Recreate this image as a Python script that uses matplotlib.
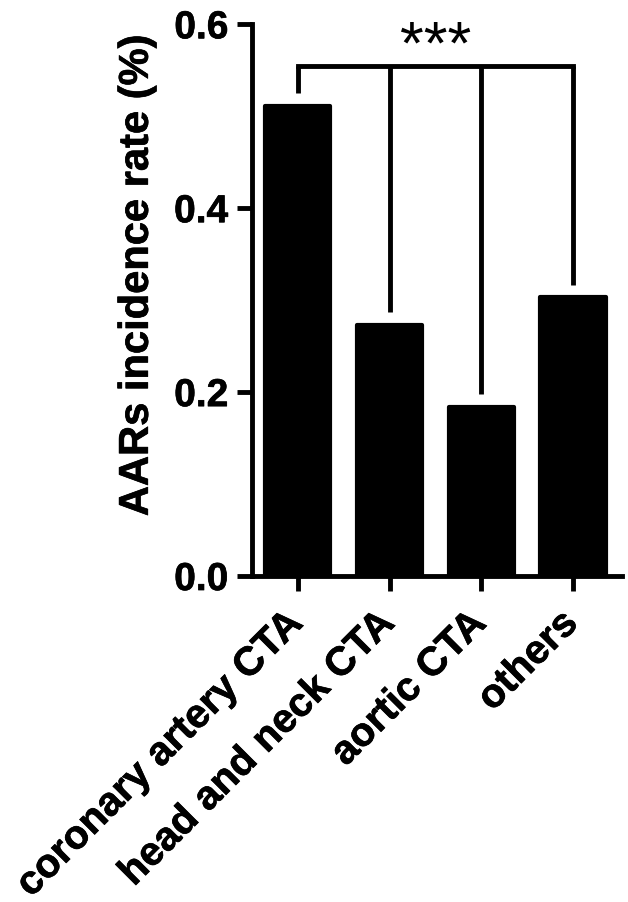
import numpy as np
import matplotlib
matplotlib.use('Agg')
import matplotlib.pyplot as plt
import matplotlib.patheffects as pe
import matplotlib.transforms as mtransforms

plt.rcParams['font.family'] = ['Liberation Sans', 'DejaVu Sans']
plt.rcParams['font.weight'] = 'bold'

categories = ['coronary artery CTA', 'head and neck CTA', 'aortic CTA', 'others']
rates = [0.511, 0.273, 0.184, 0.303]
y_ticks = [0.0, 0.2, 0.4, 0.6]
bracket_level = 0.555
sig_label = '***'

fig = plt.figure(figsize=(6.28, 9.03), dpi=100)
ax = fig.add_axes([0.401, 0.361, 0.589, 0.611])

x = np.arange(len(categories))
ax.bar(x, rates, width=0.71, color='black', edgecolor='black',
       linewidth=3, joinstyle='round', zorder=2)

# significance bracket: first bar against each of the others
gap = 0.014
lw = 3.5
ax.plot([x[0], x[-1]], [bracket_level, bracket_level], color='black',
        lw=lw, solid_capstyle='projecting', zorder=3)
for i in range(len(x)):
    ax.plot([x[i], x[i]], [rates[i] + gap, bracket_level], color='black',
            lw=lw, solid_capstyle='butt', zorder=3)
ax.text((x[1] + x[2]) / 2, 0.559, sig_label, ha='center', va='baseline',
        fontsize=44, fontweight='normal')

ax.set_xlim(-0.5, 3.53)
ax.set_ylim(0, 0.6)
ax.set_yticks(y_ticks)
ax.set_yticklabels(['%.1f' % v for v in y_ticks])
ax.set_xticks(x)
ax.set_xticklabels(categories, rotation=45, ha='right', rotation_mode='anchor')

for side in ['top', 'right']:
    ax.spines[side].set_visible(False)
for side in ['left', 'bottom']:
    ax.spines[side].set_linewidth(lw)
    ax.spines[side].set_capstyle('projecting')

ax.tick_params(axis='both', direction='out', length=11, width=lw, pad=6)
ax.tick_params(axis='y', labelsize=28)
ax.tick_params(axis='x', labelsize=29, pad=7)

# nudge the rotated labels so their ends sit under the ticks
shift = mtransforms.ScaledTranslation(-0.15, -0.03, fig.dpi_scale_trans)
for t in ax.get_xticklabels():
    t.set_transform(t.get_transform() + shift)

ax.set_ylabel('AARs incidence rate (%)', fontsize=30, fontweight='bold')
ax.yaxis.label.set_va('center')
ax.yaxis.set_label_coords(-0.311, 0.545)

# slightly heavier text, like the original export
thick = [pe.withStroke(linewidth=0.5, foreground='black')]
for t in ax.get_xticklabels() + ax.get_yticklabels() + [ax.yaxis.label]:
    t.set_path_effects(thick)

fig.savefig('out.png', dpi=100)
